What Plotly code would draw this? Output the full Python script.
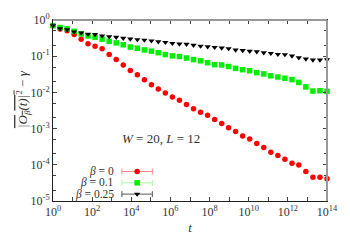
import numpy as np
import plotly.graph_objects as go

# time grid exponents (log10 t), 40 points from 10^0 to 10^14
t_exp = [0.00, 0.36, 0.72, 1.08, 1.44, 1.79, 2.15, 2.51, 2.87, 3.23,
         3.59, 3.95, 4.31, 4.67, 5.03, 5.38, 5.74, 6.10, 6.46, 6.82,
         7.18, 7.54, 7.90, 8.26, 8.62, 8.97, 9.33, 9.69, 10.05, 10.41,
         10.77, 11.13, 11.49, 11.85, 12.21, 12.56, 12.92, 13.28, 13.64, 14.00]
t = [10 ** e for e in t_exp]

beta0 = [0.698, 0.566, 0.502, 0.40, 0.292, 0.221, 0.187, 0.161, 0.111, 0.0805,
         0.0573, 0.0405, 0.0309, 0.0222, 0.01626, 0.01233, 0.0097, 0.00745, 0.00611, 0.00461,
         0.00356, 0.00284, 0.00234, 0.00177, 0.00139, 0.00105, 8.30e-4, 6.27e-4, 5.14e-4, 3.88e-4,
         3.00e-4, 2.22e-4, 1.81e-4, 1.43e-4, 1.10e-4, 9.9e-5, 6.5e-5, 4.56e-5, 4.56e-5, 4.14e-5]

beta01 = [0.698, 0.619, 0.573, 0.487, 0.414, 0.361, 0.334, 0.296, 0.256, 0.233,
          0.207, 0.179, 0.166, 0.149, 0.138, 0.125, 0.111, 0.102, 0.098, 0.0892,
          0.0806, 0.0745, 0.0661, 0.0586, 0.0573, 0.0520, 0.0461, 0.0424, 0.0397, 0.0352,
          0.0324, 0.0287, 0.0266, 0.0246, 0.0226, 0.0189, 0.0142, 0.0109, 0.0111, 0.0107]

beta025 = [0.70, 0.573, 0.539, 0.467, 0.440, 0.407, 0.400, 0.367, 0.346, 0.334,
           0.314, 0.301, 0.289, 0.279, 0.267, 0.252, 0.242, 0.227, 0.219, 0.214,
           0.202, 0.190, 0.183, 0.176, 0.169, 0.163, 0.149, 0.144, 0.138, 0.133,
           0.125, 0.120, 0.113, 0.111, 0.102, 0.0908, 0.0840, 0.0791, 0.0791, 0.0806]

series_labels = ["<i>β</i> = 0", "<i>β</i> = 0.1", "<i>β</i> = 0.25"]
x_major_exp = [0, 2, 4, 6, 8, 10, 12, 14]
y_major_exp = [0, -1, -2, -3, -4, -5]

FONT = "Liberation Serif"
TXT = "#333"
colors = ["#ff0000", "#00ee00", "#000000"]
legend_line = ["#ff8a8a", "#a8ffa8", "#555555"]
symbols = ["circle", "square", "triangle-down"]
sizes = [5.5, 5.5, 5.5]
data = [beta0, beta01, beta025]

fig = go.Figure()
for d, c, s, sz in zip(data, colors, symbols, sizes):
    fig.add_trace(go.Scatter(x=t, y=d, mode="markers",
                             marker=dict(color=c, symbol=s, size=sz, line=dict(width=0)),
                             showlegend=False, cliponaxis=False))

# legend samples on an overlay axis
leg_rows = [0.163, 0.1005, 0.038]
for i in range(3):
    fig.add_trace(go.Scatter(x=[0.307], y=[leg_rows[i]], xaxis="x2", yaxis="y2", mode="markers",
                             marker=dict(color=colors[i], symbol=symbols[i], size=sizes[i]),
                             error_x=dict(type="data", array=[0.0556], color=legend_line[i],
                                          thickness=1, width=3),
                             showlegend=False))
    fig.add_annotation(x=0.228, y=leg_rows[i], xref="x2", yref="y2", text=series_labels[i],
                       showarrow=False, xanchor="right", yanchor="middle", borderpad=0,
                       font=dict(family=FONT, size=11.5, color=TXT))

fig.add_annotation(x=0.246, y=0.295, xref="paper", yref="paper",
                   text="<i>W</i> = 20, <i>L</i> = 12", showarrow=False,
                   font=dict(family=FONT, size=13, color=TXT))

fig.add_annotation(x=-0.152, y=0.565, xref="paper", yref="paper", textangle=-90,
                   text=('<span style="text-decoration:overline"><i>|O<sub>β</sub>(t)|</i>'
                         '<sup>2</sup></span> − <i>γ</i>'),
                   showarrow=False,
                   font=dict(family=FONT, size=13, color=TXT))

# grey top/right frame like the reference
fig.add_shape(type="line", xref="paper", yref="paper", x0=0, x1=1, y0=1, y1=1,
              line=dict(color="#999", width=2))
fig.add_shape(type="line", xref="paper", yref="paper", x0=1, x1=1, y0=0, y1=1,
              line=dict(color="#999", width=2))

x_ticks = list(range(0, 15))
x_text = [("10<sup>%d</sup>" % e if e in x_major_exp else "") for e in x_ticks]
y_minor = []
for e in range(-5, 0):
    y_minor += [2 * 10 ** e, 5 * 10 ** e]

fig.update_layout(
    width=350, height=245,
    margin=dict(l=53, r=21, t=14, b=39),
    paper_bgcolor="white", plot_bgcolor="white",
    font=dict(family=FONT, size=12, color=TXT),
    xaxis=dict(type="log", range=[0, 14], tickvals=[10 ** e for e in x_ticks], ticktext=x_text,
               ticks="inside", ticklen=4, tickcolor="#444", showline=True, linecolor="#222",
               linewidth=1, mirror="ticks", showgrid=False, zeroline=False,
               tickfont=dict(family=FONT, size=12, color=TXT),
               title=dict(text="<i>t</i>", font=dict(family=FONT, size=13), standoff=4)),
    yaxis=dict(type="log", range=[-5, 0], tickvals=[10 ** e for e in y_major_exp],
               ticktext=["10<sup>%d</sup>" % e for e in y_major_exp],
               ticks="inside", ticklen=4, tickcolor="#444", showline=True, linecolor="#222",
               linewidth=1, mirror="ticks", showgrid=False, zeroline=False,
               tickfont=dict(family=FONT, size=12, color=TXT),
               minor=dict(tickvals=y_minor, ticks="inside", ticklen=3, tickcolor="#444", showgrid=False)),
    xaxis2=dict(domain=[0, 1], range=[0, 1], overlaying="x", visible=False),
    yaxis2=dict(domain=[0, 1], range=[0, 1], overlaying="y", visible=False),
)

fig.write_html("out.html", config={"displayModeBar": False},
               post_script="document.body.style.margin='0';document.body.style.overflow='hidden';")
